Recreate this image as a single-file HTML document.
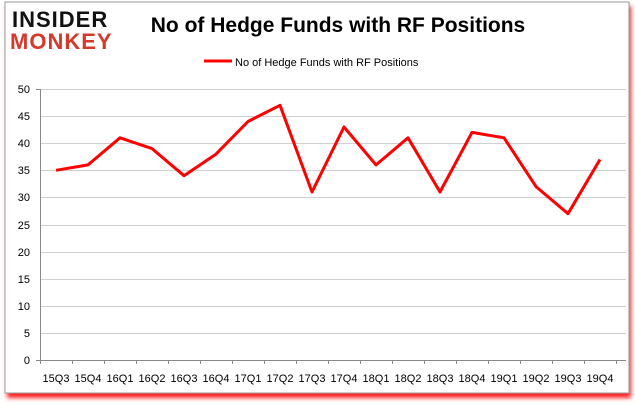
<!DOCTYPE html>
<html><head><meta charset="utf-8"><style>
body{margin:0;background:#fff;}
svg{display:block;font-family:"Liberation Sans",sans-serif;}
</style></head><body>
<svg width="635" height="405" viewBox="0 0 635 405">
<defs><filter id="sh" x="-5%" y="-5%" width="110%" height="115%"><feGaussianBlur stdDeviation="2"/></filter></defs>
<rect x="7" y="6" width="624" height="392" fill="#ff2020" filter="url(#sh)"/>
<rect x="5" y="2" width="624" height="391" fill="#fff" stroke="#999" stroke-width="1"/>
<text x="12" y="27" font-size="22" font-weight="bold" fill="#111" letter-spacing="1">INSIDER</text>
<text x="10" y="49" font-size="22" font-weight="bold" fill="#d33a2c" letter-spacing="1">MONKEY</text>
<text x="338" y="32" font-size="21" font-weight="bold" text-anchor="middle" fill="#000">No of Hedge Funds with RF Positions</text>
<line x1="204" y1="61" x2="232" y2="61" stroke="#f00" stroke-width="3"/>
<text x="235" y="66" font-size="11" fill="#000">No of Hedge Funds with RF Positions</text>
<g stroke="#d0d0d0" stroke-width="1">
<line x1="40" y1="360.5" x2="626" y2="360.5" stroke="#888"/>
<line x1="40" y1="333.5" x2="626" y2="333.5"/><line x1="40" y1="306.5" x2="626" y2="306.5"/>
<line x1="40" y1="279.5" x2="626" y2="279.5"/><line x1="40" y1="252.5" x2="626" y2="252.5"/>
<line x1="40" y1="225.5" x2="626" y2="225.5"/><line x1="40" y1="197.5" x2="626" y2="197.5"/>
<line x1="40" y1="170.5" x2="626" y2="170.5"/><line x1="40" y1="143.5" x2="626" y2="143.5"/>
<line x1="40" y1="116.5" x2="626" y2="116.5"/><line x1="40" y1="89.5" x2="626" y2="89.5"/>
</g>
<line x1="40.5" y1="89" x2="40.5" y2="364" stroke="#888"/>
<g font-size="11" fill="#000" text-anchor="end">
<text x="30" y="364">0</text><text x="30" y="337">5</text><text x="30" y="310">10</text>
<text x="30" y="283">15</text><text x="30" y="256">20</text><text x="30" y="229">25</text>
<text x="30" y="201">30</text><text x="30" y="174">35</text><text x="30" y="147">40</text>
<text x="30" y="120">45</text><text x="30" y="93">50</text>
</g>
<g stroke="#888"><line x1="36" y1="89.5" x2="40" y2="89.5"/><line x1="36" y1="360.5" x2="40" y2="360.5"/></g>
<g id="ticks" stroke="#888">
<line x1="72.5" y1="360" x2="72.5" y2="364"/><line x1="104.5" y1="360" x2="104.5" y2="364"/><line x1="136.5" y1="360" x2="136.5" y2="364"/><line x1="168.5" y1="360" x2="168.5" y2="364"/><line x1="200.5" y1="360" x2="200.5" y2="364"/><line x1="232.5" y1="360" x2="232.5" y2="364"/><line x1="264.5" y1="360" x2="264.5" y2="364"/><line x1="296.5" y1="360" x2="296.5" y2="364"/><line x1="328.5" y1="360" x2="328.5" y2="364"/><line x1="360.5" y1="360" x2="360.5" y2="364"/><line x1="392.5" y1="360" x2="392.5" y2="364"/><line x1="424.5" y1="360" x2="424.5" y2="364"/><line x1="456.5" y1="360" x2="456.5" y2="364"/><line x1="488.5" y1="360" x2="488.5" y2="364"/><line x1="520.5" y1="360" x2="520.5" y2="364"/><line x1="552.5" y1="360" x2="552.5" y2="364"/><line x1="584.5" y1="360" x2="584.5" y2="364"/><line x1="616.5" y1="360" x2="616.5" y2="364"/>
</g>
<g font-size="11" fill="#000" text-anchor="middle">
<text x="56" y="382">15Q3</text><text x="88" y="382">15Q4</text><text x="120" y="382">16Q1</text><text x="152" y="382">16Q2</text><text x="184" y="382">16Q3</text><text x="216" y="382">16Q4</text><text x="248" y="382">17Q1</text><text x="280" y="382">17Q2</text><text x="312" y="382">17Q3</text><text x="344" y="382">17Q4</text><text x="376" y="382">18Q1</text><text x="408" y="382">18Q2</text><text x="440" y="382">18Q3</text><text x="472" y="382">18Q4</text><text x="504" y="382">19Q1</text><text x="536" y="382">19Q2</text><text x="568" y="382">19Q3</text><text x="600" y="382">19Q4</text>
</g>
<polyline fill="none" stroke="#f00" stroke-width="3" stroke-linejoin="round" points="56,170.3 88,164.9 120,137.8 152,148.6 184,175.7 216,154.1 248,121.5 280,105.3 312,192.0 344,127.0 376,164.9 408,137.8 440,192.0 472,132.4 504,137.8 536,186.6 568,213.7 600,159.5"/>
</svg>
</body></html>
